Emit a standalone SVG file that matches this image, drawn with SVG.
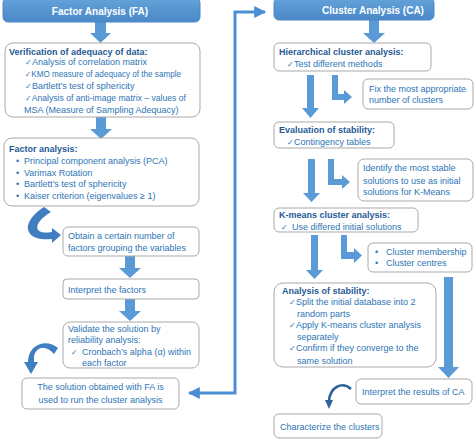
<svg xmlns="http://www.w3.org/2000/svg" width="474" height="440" viewBox="0 0 474 440">
<defs>
<linearGradient id="hdr" x1="0" y1="0" x2="0" y2="1">
<stop offset="0" stop-color="#64A2DA"/>
<stop offset="1" stop-color="#4A88C8"/>
</linearGradient>
<marker id="tri" viewBox="0 0 10 10" refX="9" refY="5" markerWidth="4.2" markerHeight="4" orient="auto-start-reverse" markerUnits="strokeWidth">
<path d="M0,0 L10,5 L0,10 Z" fill="#4A8FD6"/>
</marker>
</defs>
<style>
text{font-family:"Liberation Sans",Arial,sans-serif;font-size:9px;fill:#2E75B6}
.t{font-weight:bold;fill:#1F5A96}
.h{font-weight:bold;font-size:10px;fill:#FFFFFF}
.box{fill:#FFFFFF;stroke:#A9A9A9;stroke-width:1}
.hb{fill:url(#hdr);stroke:#4A88C8;stroke-width:1}
.ar{fill:#5A9AD6}
.cv{fill:#3F7EC0}
.ck{font-size:8px}
.c{text-anchor:middle}
</style>
<rect width="474" height="440" fill="#FFFFFF"/>

<g id="connectors">
<path class="ar" d="M95,22 H106 V33 H111 L100.5,43 L90,33 H95 Z"/>
<path class="ar" d="M96,117 H106 V129 H112 L101,139 L90,129 H96 Z"/>
<path class="ar" d="M125,256 H135 V268 H141 L130,278 L119,268 H125 Z"/>
<path class="ar" d="M125,299 H135 V311 H141 L130,321 L119,311 H125 Z"/>
<path class="ar" d="M369,20 H379 V33 H385 L374,43 L363,33 H369 Z"/>
<path class="ar" d="M307,75 H314 V108 H319 L310.5,118 L302,108 H307 Z"/>
<path class="ar" d="M332,75 H338 V94 H344 V90 L352,97 L344,104 V100 H332 Z"/>
<path class="ar" d="M308,159 H315 V193 H320 L311.5,202 L303,193 H308 Z"/>
<path class="ar" d="M328,159 H334 V179 H342 V175 L350,182 L342,189 V185 H328 Z"/>
<path class="ar" d="M311,235 H318 V270 H323 L314.5,279 L306,270 H311 Z"/>
<path class="ar" d="M341,235 H347 V252 H354 V248 L362,255.5 L354,263 V259 H341 Z"/>
<path class="ar" d="M444,277 H453 V367 H459 L448.5,378 L438,367 H444 Z"/>
<path d="M189,393 H235 V12 H265" fill="none" stroke="#4A8FD6" stroke-width="3" marker-start="url(#tri)" marker-end="url(#tri)"/>
<path class="cv" d="M44,207 L51,212 C41,218 35,225 38,230 C41,233 46,233 52,232 L52,228 L61,235 L52,243 L52,239 C44,240 32,239 29,232 C25,224 33,214 44,207 Z"/>
<path class="cv" d="M54,354 C46,345 37,346 34,356 L34,362 L38,362 L31,374 L24,362 L28,362 C28,344 47,338 58,348 Z"/>
<path d="M351,389 C342,381 330,387 329,401" fill="none" stroke="#2F63A0" stroke-width="2.6"/>
<path d="M325,400 L333,400 L329,409 Z" fill="#2F63A0"/>
</g>

<g id="fa-header">
<rect class="hb" x="3" y="-2" width="197" height="24" rx="5"/>
<text class="h c" x="100" y="14.5">Factor Analysis (FA)</text>
</g>

<g id="verification">
<rect class="box" x="5" y="43" width="195" height="74" rx="8"/>
<text class="t" x="9" y="55">Verification of adequacy of data:</text>
<text x="25" y="65"><tspan class="ck">✓</tspan>Analysis of correlation matrix</text>
<text x="25" y="77" textLength="156" lengthAdjust="spacingAndGlyphs"><tspan class="ck">✓</tspan>KMO measure of adequacy of the sample</text>
<text x="25" y="89"><tspan class="ck">✓</tspan>Bartlett’s test of sphericity</text>
<text x="25" y="101" textLength="161" lengthAdjust="spacingAndGlyphs"><tspan class="ck">✓</tspan>Analysis of anti-image matrix – values of</text>
<text x="24" y="113">MSA (Measure of Sampling Adequacy)</text>
</g>

<g id="factor-analysis">
<rect class="box" x="4" y="138" width="195" height="68" rx="8"/>
<text class="t" x="9" y="152">Factor analysis:</text>
<text x="16" y="164">•</text><text x="24" y="164">Principal component analysis (PCA)</text>
<text x="16" y="176">•</text><text x="24" y="176">Varimax Rotation</text>
<text x="16" y="187">•</text><text x="24" y="187">Bartlett’s test of sphericity</text>
<text x="16" y="199">•</text><text x="24" y="199">Kaiser criterion (eigenvalues ≥ 1)</text>
</g>

<g id="obtain">
<rect class="box" x="63" y="227" width="136" height="29" rx="5"/>
<text x="68" y="239">Obtain a certain number of</text>
<text x="68" y="250.5">factors grouping the variables</text>
</g>

<g id="interpret-factors">
<rect class="box" x="63" y="279" width="136" height="20" rx="4"/>
<text x="68" y="292.5">Interpret the factors</text>
</g>

<g id="validate">
<rect class="box" x="63" y="322" width="136" height="46" rx="7"/>
<text x="68" y="331.5">Validate the solution by</text>
<text x="68" y="343">reliability analysis:</text>
<text x="71" y="354.5"><tspan class="ck">✓</tspan><tspan x="82">Cronbach’s alpha (α) within</tspan></text>
<text x="82" y="366">each factor</text>
</g>

<g id="solution">
<rect class="box" x="22" y="378" width="157" height="31" rx="5"/>
<text class="c" x="100.5" y="390">The solution obtained with FA is</text>
<text class="c" x="100.5" y="402.5">used to run the cluster analysis</text>
</g>

<g id="ca-header">
<rect class="hb" x="274" y="-2" width="160" height="22" rx="5"/>
<text class="h c" x="373" y="13.5">Cluster Analysis (CA)</text>
</g>

<g id="hierarchical">
<rect class="box" x="274" y="43" width="157" height="28" rx="5"/>
<text class="t" x="279" y="55">Hierarchical cluster analysis:</text>
<text x="287" y="66.5"><tspan class="ck">✓</tspan>Test different methods</text>
</g>

<g id="fix">
<rect class="box" x="363" y="79" width="110" height="30" rx="5"/>
<text x="369" y="92">Fix the most appropriate</text>
<text x="369" y="103">number of clusters</text>
</g>

<g id="evaluation">
<rect class="box" x="274" y="122" width="120" height="26" rx="5"/>
<text class="t" x="279" y="133">Evaluation of stability:</text>
<text x="287" y="145"><tspan class="ck">✓</tspan>Contingency tables</text>
</g>

<g id="identify">
<rect class="box" x="358" y="159" width="115" height="42" rx="6"/>
<text x="363" y="171">Identify the most stable</text>
<text x="363" y="183.5">solutions to use as initial</text>
<text x="363" y="195">solutions for K-Means</text>
</g>

<g id="kmeans">
<rect class="box" x="274" y="208" width="144" height="24" rx="5"/>
<text class="t" x="279" y="217.5">K-means cluster analysis:</text>
<text x="281" y="229.5"><tspan class="ck">✓</tspan><tspan x="292">Use differed initial solutions</tspan></text>
</g>

<g id="membership">
<rect class="box" x="368" y="243" width="104" height="29" rx="5"/>
<text x="375" y="254.5">•</text><text x="386" y="254.5">Cluster membership</text>
<text x="375" y="266">•</text><text x="386" y="266">Cluster centres</text>
</g>

<g id="analysis-stability">
<rect class="box" x="274" y="283" width="162" height="84" rx="9"/>
<text class="t" x="282" y="294">Analysis of stability:</text>
<text x="289" y="305"><tspan class="ck">✓</tspan>Split the initial database into 2</text>
<text x="297" y="316.5">random parts</text>
<text x="289" y="328"><tspan class="ck">✓</tspan>Apply K-means cluster analysis</text>
<text x="297" y="340">separately</text>
<text x="289" y="351"><tspan class="ck">✓</tspan>Confirm if they converge to the</text>
<text x="297" y="363.5">same solution</text>
</g>

<g id="interpret-ca">
<rect class="box" x="356" y="379" width="116" height="25" rx="5"/>
<text x="362" y="395">Interpret the results of CA</text>
</g>

<g id="characterize">
<rect class="box" x="274" y="414" width="108" height="24" rx="5"/>
<text x="280" y="430">Characterize the clusters</text>
</g>
</svg>
